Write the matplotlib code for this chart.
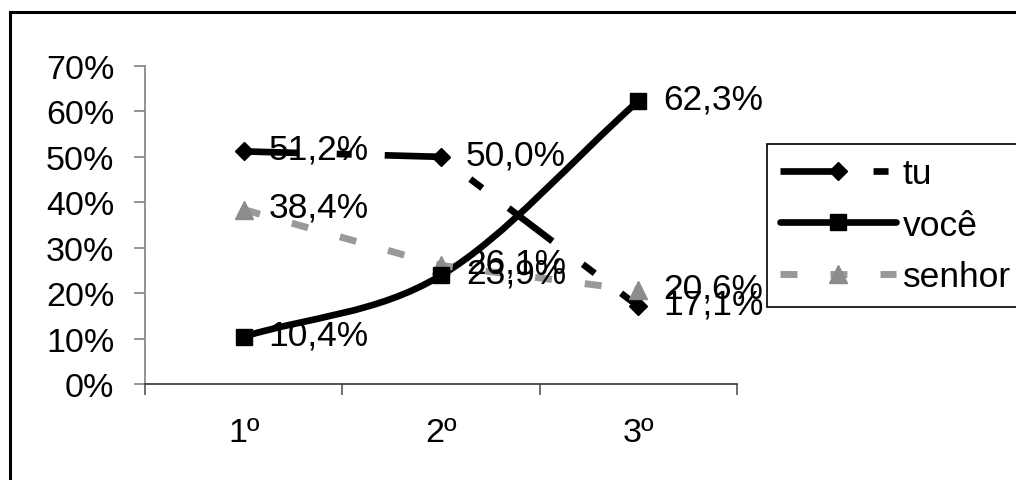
import matplotlib
matplotlib.use("Agg")
import matplotlib.pyplot as plt
from matplotlib.path import Path
from matplotlib.patches import PathPatch
from matplotlib.lines import Line2D
from matplotlib.ticker import FixedLocator, FixedFormatter

# ---------------- data ----------------
categories = ["1º", "2º", "3º"]
tu = [51.2, 50.0, 17.1]
voce = [10.4, 23.9, 62.3]
senhor = [38.4, 26.1, 20.6]
series_names = ["tu", "você", "senhor"]
y_ticks = [0, 10, 20, 30, 40, 50, 60, 70]

plt.rcParams['font.family'] = ['Liberation Sans', 'DejaVu Sans']
plt.rcParams['lines.scale_dashes'] = False

W, H = 1016, 481
fig = plt.figure(figsize=(W / 100, H / 100), dpi=100)
fig.patch.set_facecolor("white")

ax = fig.add_axes([145 / W, 1 - 385 / H, (737 - 145) / W, (385 - 67) / H])
xs = [i + 0.5 for i in range(len(categories))]
FS = 24.5
FS_LBL = 25.5

def fmt(v):
    return f"{v:.1f}".replace(".", ",") + "%"

# tu: straight, long-dash-dot, diamonds
tu_line, = ax.plot(xs, tu, color="black", lw=4.8,
                   linestyle=(0, (39.6, 27.4, 10.8, 23.8)),
                   marker="D", ms=9.5, mfc="black", mec="black", zorder=3)

# você: smoothed Bezier curve (control points from data) + square markers
def smooth_path(x, y):
    n = len(x)
    px = [2 * x[0] - x[1]] + list(x) + [2 * x[-1] - x[-2]]
    py = [2 * y[0] - y[1]] + list(y) + [2 * y[-1] - y[-2]]
    verts = [(x[0], y[0])]
    codes = [Path.MOVETO]
    for i in range(1, n):
        c1 = (px[i] + (px[i + 1] - px[i - 1]) / 6, py[i] + (py[i + 1] - py[i - 1]) / 6)
        c2 = (px[i + 1] - (px[i + 2] - px[i]) / 6, py[i + 1] - (py[i + 2] - py[i]) / 6)
        verts += [c1, c2, (px[i + 1], py[i + 1])]
        codes += [Path.CURVE4] * 3
    return Path(verts, codes)

patch = PathPatch(smooth_path(xs, voce), facecolor="none", edgecolor="black",
                  lw=4.8, capstyle="round", joinstyle="round", zorder=3)
ax.add_patch(patch)
ax.plot(xs, voce, linestyle="none", marker="s", ms=12, mfc="black", mec="black", zorder=4)

# senhor: gray short dashes, triangles
sen_line, = ax.plot(xs, senhor, color="#999999", lw=5.0,
                    linestyle=(0, (12.2, 23.8)),
                    marker="^", ms=13, mfc="#8c8c8c", mec="#8c8c8c", zorder=3)

# data labels
for vals in (tu, voce, senhor):
    for x, v in zip(xs, vals):
        ax.annotate(fmt(v), (x, v), xytext=(18, 1.5), textcoords="offset points",
                    ha="left", va="center", fontsize=FS_LBL, color="black", zorder=5)

# axes styling
ax.set_xlim(0, len(categories))
ax.set_ylim(0, 70)
for s in ("top", "right"):
    ax.spines[s].set_visible(False)
ax.spines["left"].set_color("#808080")
ax.spines["left"].set_linewidth(1.2)
ax.spines["bottom"].set_color("#333333")
ax.spines["bottom"].set_linewidth(1.2)

ax.set_yticks(y_ticks)
ax.set_yticklabels([f"{t}%" for t in y_ticks])
ax.tick_params(axis="y", direction="out", length=8, width=1.2, color="#808080",
               pad=14, labelsize=FS)

ax.xaxis.set_major_locator(FixedLocator(list(range(len(categories) + 1))))
ax.xaxis.set_major_formatter(FixedFormatter([""] * (len(categories) + 1)))
ax.xaxis.set_minor_locator(FixedLocator(xs))
ax.xaxis.set_minor_formatter(FixedFormatter(categories))
ax.tick_params(axis="x", which="major", direction="out", length=8, width=1.2, color="#555555")
ax.tick_params(axis="x", which="minor", length=0, pad=24, labelsize=FS)

# legend
voce_handle = Line2D([], [], color="black", lw=4.8, solid_capstyle="round",
                     marker="s", ms=12, mfc="black", mec="black")
leg = fig.legend([tu_line, voce_handle, sen_line], series_names,
                 loc="upper left", bbox_to_anchor=(767 / W, 1 - 145 / H),
                 bbox_transform=fig.transFigure, borderaxespad=0,
                 fontsize=FS_LBL, handlelength=3.25, handletextpad=0.2,
                 labelspacing=0.52, borderpad=0.38, numpoints=1,
                 fancybox=False, shadow=False, framealpha=1)
leg.get_frame().set_edgecolor("black")
leg.get_frame().set_linewidth(1.2)

# outer chart border (left and top edges visible)
fig.add_artist(Line2D([10 / W, 10 / W], [0, 1 - 13 / H], transform=fig.transFigure,
                      color="black", lw=2.2, solid_capstyle="projecting"))
fig.add_artist(Line2D([10 / W, 1], [1 - 13 / H, 1 - 13 / H], transform=fig.transFigure,
                      color="black", lw=2.2, solid_capstyle="projecting"))

fig.savefig("out.png", dpi=100)
